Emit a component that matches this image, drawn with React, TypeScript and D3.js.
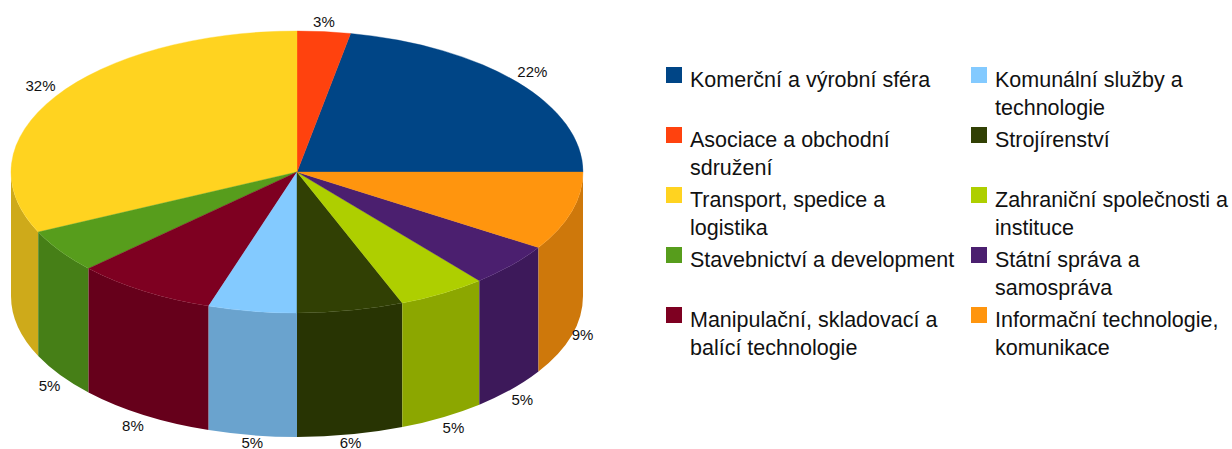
import * as d3 from "d3"
import { useEffect, useRef } from "react"

const sectors = ["Komerční a výrobní sféra", "Asociace a obchodní sdružení", "Transport, spedice a logistika", "Stavebnictví a development", "Manipulační, skladovací a balící technologie", "Komunální služby a technologie", "Strojírenství", "Zahraniční společnosti a instituce", "Státní správa a samospráva", "Informační technologie, komunikace"]
const shares = [22, 3, 32, 5, 8, 5, 6, 5, 5, 9]
const colors = ["#004586", "#ff420e", "#ffd320", "#579d1c", "#7e0021", "#83caff", "#314004", "#aecf00", "#4b1f6f", "#ff950e"]
// where the legend text wraps
const legendLines = [
	["Komerční a výrobní sféra"],
	["Asociace a obchodní", "sdružení"],
	["Transport, spedice a", "logistika"],
	["Stavebnictví a development"],
	["Manipulační, skladovací a", "balící technologie"],
	["Komunální služby a", "technologie"],
	["Strojírenství"],
	["Zahraniční společnosti a", "instituce"],
	["Státní správa a", "samospráva"],
	["Informační technologie,", "komunikace"],
]

const width = 1232
const height = 449
const cx = 297
const cy = 172
const rx = 286
const ry = 141
const depth = 124
const font = "'Liberation Sans', Arial, sans-serif"

export default function App() {

	const svgRef = useRef(null)

	useEffect(() => {

		const svg = d3.select(svgRef.current)
		svg.selectAll("*").remove()

		// first slice starts at 3 o'clock and runs counter-clockwise
		const slices = d3.pie()
			.sort(null)
			.startAngle(Math.PI / 2)
			.endAngle(Math.PI / 2 - 2 * Math.PI)(shares)

		const px = a => cx + rx * Math.sin(a)
		const py = a => cy - ry * Math.cos(a)

		// side wall, only the front half of the rim shows
		const wall = d => {
			const a = Math.min(d.startAngle, d.endAngle)
			const b = Math.max(d.startAngle, d.endAngle)
			const shift = a < -1e-9 ? 2 * Math.PI : 0
			const lo = Math.max(a + shift, Math.PI / 2)
			const hi = Math.min(b + shift, 3 * Math.PI / 2)
			if (hi <= lo) return null
			return `M${px(lo)},${py(lo)}A${rx},${ry} 0 0 1 ${px(hi)},${py(hi)}`
				+ `L${px(hi)},${py(hi) + depth}A${rx},${ry} 0 0 0 ${px(lo)},${py(lo) + depth}Z`
		}

		svg.append("g")
			.selectAll("path")
			.data(slices.filter(d => wall(d)))
			.join("path")
			.attr("d", wall)
			.attr("fill", d => d3.rgb(colors[d.index]).darker(0.6))

		// top of the pie, circle squashed into an ellipse
		const arc = d3.arc().innerRadius(0).outerRadius(rx)
		svg.append("g")
			.attr("transform", `translate(${cx},${cy}) scale(1,${ry / rx})`)
			.selectAll("path")
			.data(slices)
			.join("path")
			.attr("d", arc)
			.attr("fill", d => colors[d.index])
			.attr("stroke", d => colors[d.index])
			.attr("stroke-width", 0.5)

		// percent labels
		svg.append("g")
			.selectAll("text")
			.data(slices)
			.join("text")
			.each(function (d) {
				const mid = (d.startAngle + d.endAngle) / 2
				const s = Math.sin(mid)
				const c = Math.cos(mid)
				const front = c < 0
				const dy = !front ? -5 : c > -0.5 ? 5 : 16
				d3.select(this)
					.attr("x", px(mid))
					.attr("y", py(mid) + (front ? depth : 0) + (Math.abs(s) < 0.2 && front ? 13 : dy))
					.attr("text-anchor", Math.abs(s) < 0.2 ? "middle" : s > 0 ? "start" : "end")
			})
			.attr("font-family", font)
			.attr("font-size", 15)
			.attr("fill", "#111")
			.text(d => `${d.value}%`)

		// legend, two columns of five
		const colX = d3.scaleLinear().domain([0, 1]).range([666, 971])
		const rowY = d3.scaleLinear().domain([0, 4]).range([67, 307])
		const items = svg.append("g")
			.selectAll("g")
			.data(sectors)
			.join("g")
			.attr("transform", (d, i) => `translate(${colX(Math.floor(i / 5))},${rowY(i % 5)})`)

		items.append("rect")
			.attr("width", 16)
			.attr("height", 16)
			.attr("fill", (d, i) => colors[i])

		items.each(function (d, i) {
			d3.select(this).selectAll("text")
				.data(legendLines[i])
				.join("text")
				.attr("x", 24)
				.attr("y", (l, j) => 20 + j * 28)
				.attr("font-family", font)
				.attr("font-size", 21.5)
				.attr("fill", "#111")
				.text(l => l)
		})

	}, [])

	return <svg ref={svgRef} width={width} height={height} style={{ position: "absolute", left: 0, top: 0, background: "#fff" }} />
}
